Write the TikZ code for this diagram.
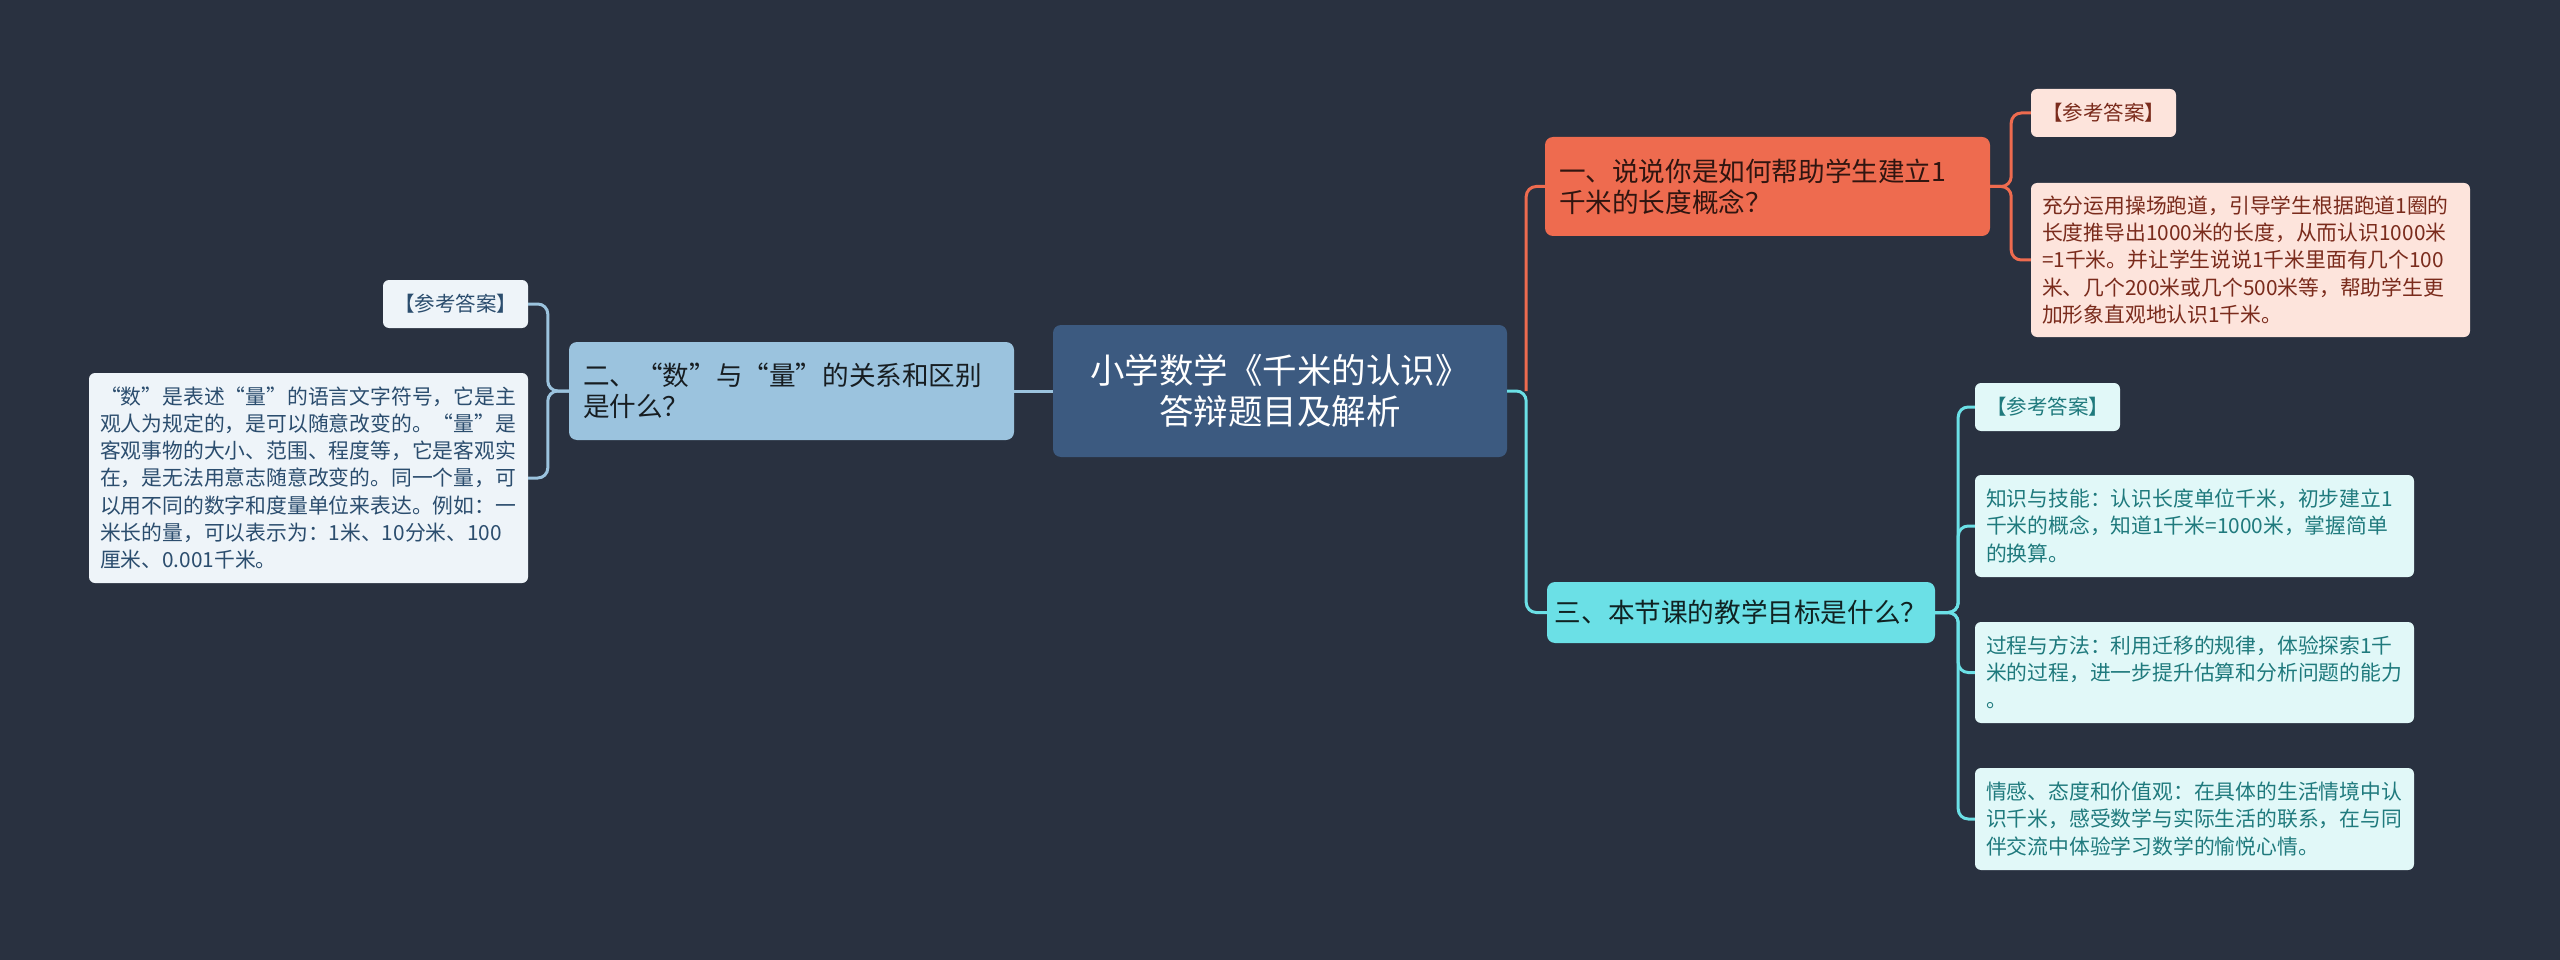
\documentclass[tikz,border=0pt]{standalone}
\usepackage{fontspec}
\setmainfont{Noto Sans CJK SC}
\usetikzlibrary{positioning}

\definecolor{bgcol}{HTML}{293140}
\definecolor{rootcol}{HTML}{3C5A80}
\definecolor{redcol}{HTML}{EE6B4F}
\definecolor{redpale}{HTML}{FDE4DC}
\definecolor{redtext}{HTML}{7A2B1C}
\definecolor{bluecol}{HTML}{9BC3DE}
\definecolor{bluepale}{HTML}{EEF4F9}
\definecolor{bluetext}{HTML}{2B4D6E}
\definecolor{cyancol}{HTML}{6BE0E6}
\definecolor{cyanpale}{HTML}{E1F8F8}
\definecolor{cyantext}{HTML}{1F7A7D}

\begin{document}
\begin{tikzpicture}[x=1pt, y=-1pt,
    topic/.style={rounded corners=8pt, inner xsep=14pt, inner ysep=0pt, text width=417pt,
      align=left, minimum height=99pt, font=\fontsize{26.6}{31}\selectfont},
    tag/.style={rounded corners=6pt, inner sep=0pt, minimum width=145pt, minimum height=48pt,
      font=\fontsize{20.5}{24}\selectfont},
    answer/.style={rounded corners=6pt, inner xsep=11pt, inner ysep=0pt, text width=417pt,
      align=left, font=\fontsize{20.8}{27.3}\selectfont},
    link/.style={line width=3pt, rounded corners=10pt}]
  \fill[bgcol] (0,0) rectangle (2560,960);
  \useasboundingbox (0,0) rectangle (2560,960);

  % root
  \node[fill=rootcol, text=white, rounded corners=8pt, minimum width=454pt, minimum height=132pt,
    align=center, font=\fontsize{34.5}{41}\selectfont] (root) at (1280,391)
    {小学数学《千米的认识》\\答辩题目及解析};

  % question one
  \node[topic, fill=redcol, text=black!80!redcol] (q1) at (1767.5,186.5)
    {一、说说你是如何帮助学生建立1\\千米的长度概念？};
  \node[tag, fill=redpale, text=redtext] (lab1) at (2103.5,113) {【参考答案】};
  \node[answer, fill=redpale, text=redtext, minimum height=154pt] (ans1) at (2250.5,260)
    {充分运用操场跑道，引导学生根据跑道1圈的\\长度推导出1000米的长度，从而认识1000米\\=1千米。并让学生说说1千米里面有几个100\\米、几个200米或几个500米等，帮助学生更\\加形象直观地认识1千米。};

  % question two
  \node[topic, fill=bluecol, text=black!85!bluecol, minimum height=98pt] (q2) at (791.5,391)
    {二、“数”与“量”的关系和区别\\是什么？};
  \node[tag, fill=bluepale, text=bluetext] (lab2) at (455.5,304) {【参考答案】};
  \node[answer, fill=bluepale, text=bluetext, minimum height=210pt] (ans2) at (308.5,478)
    {“数”是表述“量”的语言文字符号，它是主\\观人为规定的，是可以随意改变的。“量”是\\客观事物的大小、范围、程度等，它是客观实\\在，是无法用意志随意改变的。同一个量，可\\以用不同的数字和度量单位来表达。例如：一\\米长的量，可以表示为：1米、10分米、100\\厘米、0.001千米。};

  % question three
  \node[fill=cyancol, text=black!85!cyancol, rounded corners=8pt, minimum width=388pt,
    minimum height=61pt, font=\fontsize{26.6}{31}\selectfont] (q3) at (1741,612.5)
    {三、本节课的教学目标是什么？};
  \node[tag, fill=cyanpale, text=cyantext] (lab3) at (2047.5,407) {【参考答案】};
  \node[answer, fill=cyanpale, text=cyantext, minimum height=102pt] (ans3a) at (2194.5,526)
    {知识与技能：认识长度单位千米，初步建立1\\千米的概念，知道1千米=1000米，掌握简单\\的换算。};
  \node[answer, fill=cyanpale, text=cyantext, minimum height=101pt] (ans3b) at (2194.5,672.5)
    {过程与方法：利用迁移的规律，体验探索1千\\米的过程，进一步提升估算和分析问题的能力\\。};
  \node[answer, fill=cyanpale, text=cyantext, minimum height=102pt] (ans3c) at (2194.5,819)
    {情感、态度和价值观：在具体的生活情境中认\\识千米，感受数学与实际生活的联系，在与同\\伴交流中体验学习数学的愉悦心情。};

  % connectors
  \draw[link, cyancol] (root.east) -- ++(19,0) |- (q3.west);
  \draw[link, redcol] (root.east) ++(19,0) |- (q1.west);
  \draw[link, bluecol] (root.west) -- (q2.east);
  \draw[link, redcol] (q1.east) -- ++(21,0) |- (lab1.west);
  \draw[link, redcol] (q1.east) -- ++(21,0) |- (ans1.west);
  \draw[link, bluecol] (q2.west) -- ++(-21,0) |- (lab2.east);
  \draw[link, bluecol] (q2.west) -- ++(-21,0) |- (ans2.east);
  \foreach \n in {lab3, ans3a, ans3b, ans3c}
    \draw[link, cyancol] (q3.east) -- ++(23,0) |- (\n.west);
\end{tikzpicture}
\end{document}
